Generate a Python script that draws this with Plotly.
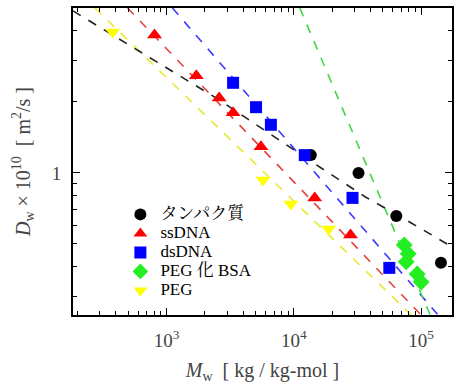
import plotly.graph_objects as go

# ---- data ----
protein_M = [13600, 32200, 63800, 143000]
protein_D = [1.19, 1.00, 0.657, 0.416]

ssdna_M = [806, 1715, 2595, 3335, 5520, 14590, 27870]
ssdna_D = [3.84, 2.58, 2.08, 1.80, 1.29, 0.784, 0.546]

dsdna_M = [3335, 5050, 6605, 12190, 28900, 56200]
dsdna_D = [2.41, 1.90, 1.60, 1.19, 0.784, 0.396]

pegbsa_M = [73600, 79100, 76300, 93000, 100000]
pegbsa_D = [0.495, 0.454, 0.420, 0.373, 0.345]

peg_M = [378, 5730, 9480, 18750]
peg_D = [3.96, 0.934, 0.739, 0.579]

# fitted dashed lines
fit_protein_M = [184.5, 2595, 15140, 36500, 83500, 174600]
fit_protein_D = [4.86, 2.04, 1.08, 0.791, 0.614, 0.486]
fit_ssdna_M = [495, 100000]
fit_ssdna_D = [5.0, 0.25]
fit_dsdna_M = [1114, 135900]
fit_dsdna_D = [5.0, 0.25]
fit_peg_M = [274, 83500]
fit_peg_D = [5.0, 0.25]
fit_pegbsa_M = [11140, 117600]
fit_pegbsa_D = [5.0, 0.25]

series_names = ["タンパク質", "ssDNA", "dsDNA", "PEG 化 BSA", "PEG"]

x_major = [1e3, 1e4, 1e5]
x_major_text = ["10<sup>3</sup>", "10<sup>4</sup>", "10<sup>5</sup>"]
y_major = [1]
y_major_text = ["1"]

x_minor = [v * d for d in (100, 1000, 10000, 100000) for v in range(2, 10) if 200 <= v * d <= 170000]
y_minor = [0.3, 0.4, 0.5, 0.6, 0.7, 0.8, 0.9, 2, 3, 4]

SERIF = "Liberation Serif, Noto Serif CJK JP, Noto Sans CJK JP, serif"


def big(s):
    return '<span style="font-size:17px">' + s + "</span>"


fig = go.Figure()

# dashed fit lines
for xs, ys, col in [
    (fit_peg_M, fit_peg_D, "#e8e830"),
    (fit_ssdna_M, fit_ssdna_D, "#e84040"),
    (fit_dsdna_M, fit_dsdna_D, "#3a3aff"),
    (fit_pegbsa_M, fit_pegbsa_D, "#40d840"),
    (fit_protein_M, fit_protein_D, "#222222"),
]:
    fig.add_trace(go.Scatter(x=xs, y=ys, mode="lines", showlegend=False,
                             line=dict(color=col, width=1.6, dash="dash"),
                             hoverinfo="skip"))

fig.add_trace(go.Scatter(x=protein_M, y=protein_D, mode="markers", name=big(series_names[0]),
                         marker=dict(symbol="circle", size=12, color="black")))
fig.add_trace(go.Scatter(x=ssdna_M, y=ssdna_D, mode="markers", name=big(series_names[1]),
                         marker=dict(symbol="triangle-up", size=13, color="#ff0000")))
fig.add_trace(go.Scatter(x=dsdna_M, y=dsdna_D, mode="markers", name=big(series_names[2]),
                         marker=dict(symbol="square", size=12, color="#0000ff")))
fig.add_trace(go.Scatter(x=pegbsa_M, y=pegbsa_D, mode="markers", name=big(series_names[3]),
                         marker=dict(symbol="diamond", size=13, color="#22ee22")))
fig.add_trace(go.Scatter(x=peg_M, y=peg_D, mode="markers", name=big(series_names[4]),
                         marker=dict(symbol="triangle-down", size=13, color="#ffff00")))

axis_common = dict(
    type="log", showline=True, linecolor="black", linewidth=2, mirror="allticks",
    ticks="inside", ticklen=7, tickwidth=1.2, tickcolor="black", showgrid=False,
    zeroline=False, tickfont=dict(family=SERIF, size=19, color="#444444"),
)

fig.update_xaxes(
    **axis_common, range=[2.266, 5.242], tickmode="array", tickvals=x_major,
    ticktext=x_major_text, ticklabelstandoff=7,
    minor=dict(tickmode="array", tickvals=x_minor, ticks="inside", ticklen=4,
               tickcolor="black", tickwidth=1, showgrid=False),
    title=dict(text="<i>M</i><sub>w</sub>  [ kg / kg-mol ]",
               font=dict(family=SERIF, size=20, color="#444444"), standoff=13),
)
fig.update_yaxes(
    **axis_common, range=[-0.602, 0.699], tickmode="array", tickvals=y_major,
    ticktext=y_major_text, ticklabelstandoff=6,
    minor=dict(tickmode="array", tickvals=y_minor, ticks="inside", ticklen=4,
               tickcolor="black", tickwidth=1, showgrid=False),
    title=dict(text="<i>D</i><sub>w</sub> × 10<sup>10</sup>  [ m<sup>2</sup>/s ]",
               font=dict(family=SERIF, size=20, color="#444444"), standoff=16),
)

fig.update_layout(
    width=459, height=387, margin=dict(l=73, r=5, t=8, b=72),
    paper_bgcolor="white", plot_bgcolor="white",
    legend=dict(x=0.125, y=0.375, xanchor="left", yanchor="top",
                bgcolor="rgba(0,0,0,0)", tracegroupgap=0, itemsizing="constant",
                font=dict(family=SERIF, size=12, color="black")),
)

fig.write_html("out.html")
